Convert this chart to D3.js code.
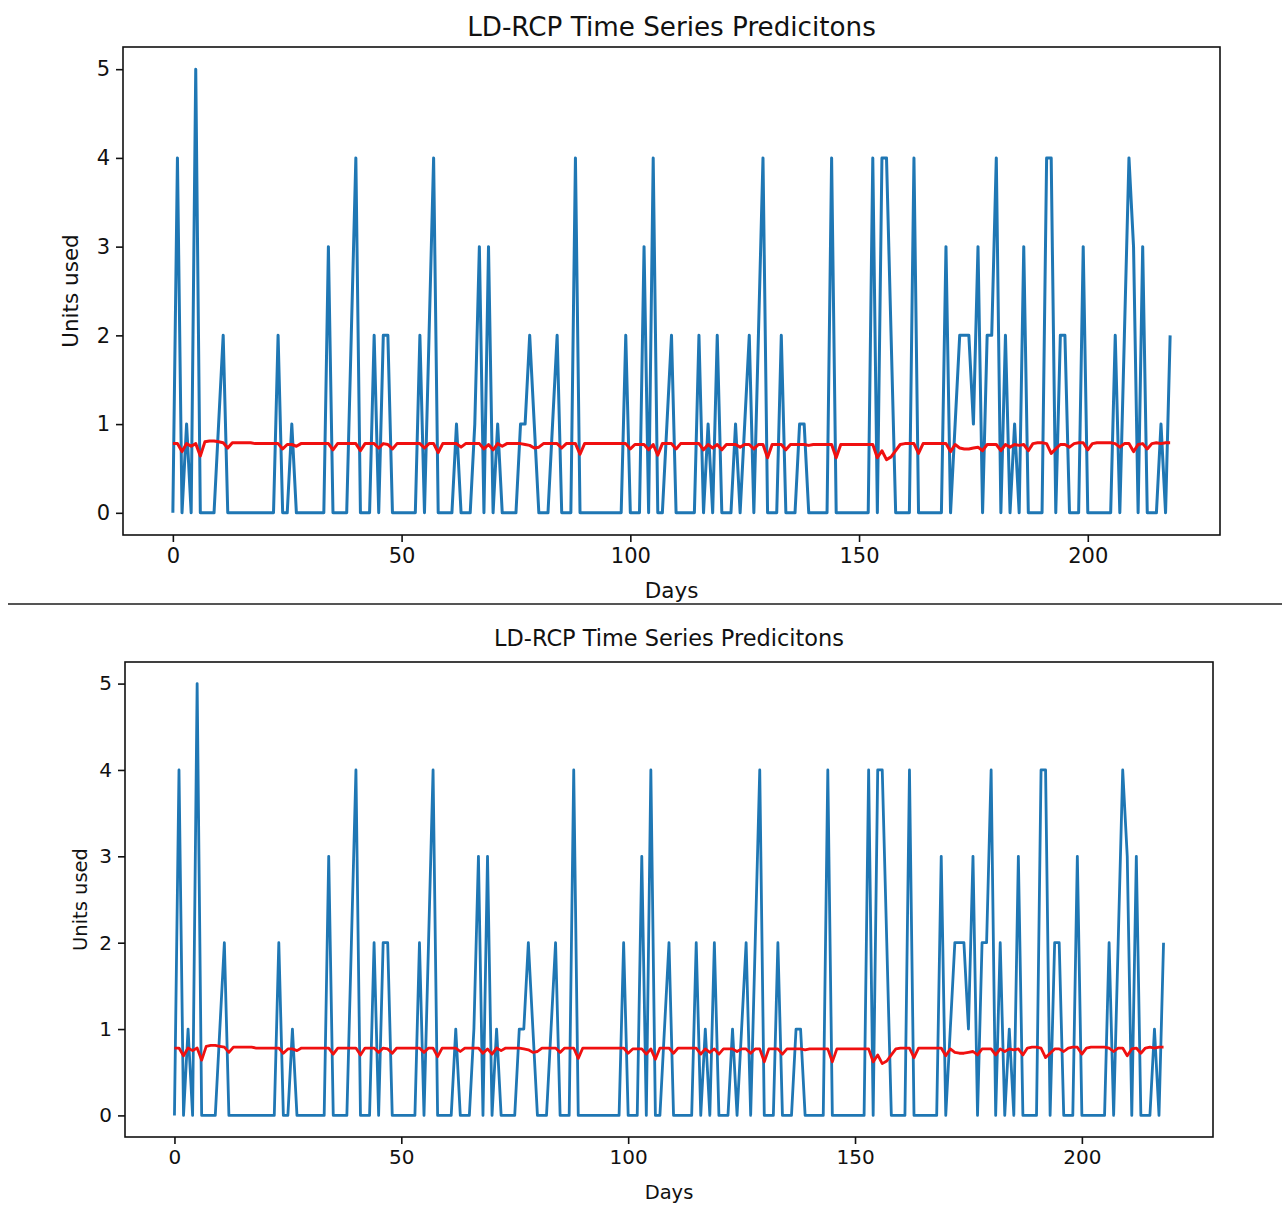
<!DOCTYPE html>
<html>
<head>
<meta charset="utf-8">
<script src="https://cdn.jsdelivr.net/npm/d3@7/dist/d3.min.js"></script>
<style>
    body { margin: 0; background: #fff; }
    svg { display: block; }
    text { font-family: "DejaVu Sans", sans-serif; fill: #111; }
</style>
</head>
<body>
<div id="chart"></div>
<script>
// Observed units used per day (day index = array position)
const unitsUsed = [
    0, 4, 0, 1, 0, 5, 0, 0, 0, 0, 1, 2, 0, 0, 0, 0, 0, 0, 0, 0,
    0, 0, 0, 2, 0, 0, 1, 0, 0, 0, 0, 0, 0, 0, 3, 0, 0, 0, 0, 2,
    4, 0, 0, 0, 2, 0, 2, 2, 0, 0, 0, 0, 0, 0, 2, 0, 2, 4, 0, 0,
    0, 0, 1, 0, 0, 0, 1, 3, 0, 3, 0, 1, 0, 0, 0, 0, 1, 1, 2, 1,
    0, 0, 0, 1, 2, 0, 0, 0, 4, 0, 0, 0, 0, 0, 0, 0, 0, 0, 0, 2,
    0, 0, 0, 3, 0, 4, 0, 0, 1, 2, 0, 0, 0, 0, 0, 2, 0, 1, 0, 2,
    0, 0, 0, 1, 0, 1, 2, 0, 2, 4, 0, 0, 0, 2, 0, 0, 0, 1, 1, 0,
    0, 0, 0, 0, 4, 0, 0, 0, 0, 0, 0, 0, 0, 4, 0, 4, 4, 2, 0, 0,
    0, 0, 4, 0, 0, 0, 0, 0, 0, 3, 0, 1, 2, 2, 2, 1, 3, 0, 2, 2,
    4, 0, 2, 0, 1, 0, 3, 0, 0, 0, 0, 4, 4, 0, 2, 2, 0, 0, 0, 3,
    0, 0, 0, 0, 0, 0, 2, 0, 2, 4, 3, 0, 3, 0, 0, 0, 1, 0, 2
];

// LD-RCP predicted units per day
const predicted = [
    0.78, 0.78, 0.69, 0.78, 0.75, 0.78, 0.64, 0.80, 0.81, 0.81, 0.80, 0.79, 0.73, 0.79, 0.79, 0.79, 0.79, 0.79, 0.78, 0.78,
    0.78, 0.78, 0.78, 0.78, 0.72, 0.77, 0.77, 0.75, 0.78, 0.78, 0.78, 0.78, 0.78, 0.78, 0.78, 0.71, 0.78, 0.78, 0.78, 0.78,
    0.78, 0.70, 0.78, 0.78, 0.78, 0.73, 0.78, 0.77, 0.72, 0.78, 0.78, 0.78, 0.78, 0.78, 0.78, 0.73, 0.78, 0.78, 0.68, 0.78,
    0.78, 0.78, 0.78, 0.74, 0.78, 0.78, 0.78, 0.78, 0.72, 0.77, 0.71, 0.78, 0.75, 0.78, 0.78, 0.78, 0.78, 0.77, 0.76, 0.73,
    0.74, 0.78, 0.78, 0.78, 0.78, 0.73, 0.78, 0.78, 0.78, 0.66, 0.78, 0.78, 0.78, 0.78, 0.78, 0.78, 0.78, 0.78, 0.78, 0.78,
    0.72, 0.77, 0.77, 0.77, 0.71, 0.77, 0.65, 0.78, 0.78, 0.78, 0.72, 0.78, 0.78, 0.78, 0.78, 0.78, 0.71, 0.77, 0.73, 0.77,
    0.71, 0.77, 0.77, 0.77, 0.74, 0.77, 0.77, 0.72, 0.77, 0.77, 0.62, 0.77, 0.77, 0.77, 0.71, 0.77, 0.77, 0.77, 0.77, 0.76,
    0.77, 0.77, 0.77, 0.77, 0.77, 0.62, 0.77, 0.77, 0.77, 0.77, 0.77, 0.77, 0.77, 0.77, 0.62, 0.70, 0.60, 0.63, 0.70, 0.77,
    0.78, 0.78, 0.78, 0.67, 0.78, 0.78, 0.78, 0.78, 0.78, 0.78, 0.69, 0.77, 0.73, 0.72, 0.72, 0.73, 0.74, 0.70, 0.77, 0.77,
    0.77, 0.70, 0.77, 0.74, 0.77, 0.76, 0.77, 0.70, 0.78, 0.79, 0.79, 0.78, 0.67, 0.72, 0.77, 0.77, 0.74, 0.78, 0.79, 0.79,
    0.71, 0.78, 0.79, 0.79, 0.79, 0.79, 0.78, 0.74, 0.78, 0.78, 0.69, 0.77, 0.78, 0.72, 0.78, 0.79, 0.78, 0.79, 0.79
];

const xTicks = [0, 50, 100, 150, 200];
const yTicks = [0, 1, 2, 3, 4, 5];
const chartTitle = 'LD-RCP Time Series Predicitons';
const xLabel = 'Days';
const yLabel = 'Units used';

const W = 1287, H = 1207;

const svg = d3.select('#chart')
    .append('svg')
    .attr('width', W)
    .attr('height', H);

// Two stacked copies of the same figure (as in the screenshot)
const panels = [
    { left: 123, right: 1220, top: 47, bottom: 535, titleY: 36, titleW: 409, xLabelY: 598, yLabelX: 70,
      tickFont: 21, labelFont: 21.5, lineW: 3 },
    { left: 125, right: 1213, top: 662, bottom: 1137, titleY: 646, titleW: 350, xLabelY: 1199, yLabelX: 80,
      tickFont: 20, labelFont: 19.5, lineW: 2.8 }
];

panels.forEach(p => drawPanel(p));

// Divider between the two screenshots
svg.append('line')
    .attr('x1', 8).attr('x2', 1282)
    .attr('y1', 604).attr('y2', 604)
    .attr('stroke', '#555')
    .attr('stroke-width', 2);

function drawPanel(p) {
    const n = unitsUsed.length - 1;
    const g = svg.append('g');

    // matplotlib-style 5% margins on both axes
    const xScale = d3.scaleLinear()
        .domain([-0.05 * n, 1.05 * n])
        .range([p.left, p.right]);

    const yScale = d3.scaleLinear()
        .domain([-0.25, 5.25])
        .range([p.bottom, p.top]);

    const line = d3.line()
        .x((d, i) => xScale(i))
        .y(d => yScale(d));

    // Actual series
    g.append('path')
        .datum(unitsUsed)
        .attr('d', line)
        .attr('fill', 'none')
        .attr('stroke', '#1f77b4')
        .attr('stroke-width', p.lineW)
        .attr('stroke-linejoin', 'round');

    // Predictions
    g.append('path')
        .datum(predicted)
        .attr('d', line)
        .attr('fill', 'none')
        .attr('stroke', '#f01010')
        .attr('stroke-width', p.lineW)
        .attr('stroke-linejoin', 'round');

    // X axis
    const xAxis = g.append('g')
        .attr('transform', `translate(0,${p.bottom})`)
        .call(d3.axisBottom(xScale).tickValues(xTicks).tickFormat(d3.format('d')).tickSize(7).tickPadding(6));
    xAxis.select('.domain').remove();

    // Y axis
    const yAxis = g.append('g')
        .attr('transform', `translate(${p.left},0)`)
        .call(d3.axisLeft(yScale).tickValues(yTicks).tickFormat(d3.format('d')).tickSize(7).tickPadding(6));
    yAxis.select('.domain').remove();

    [xAxis, yAxis].forEach(ax => {
        ax.selectAll('line').attr('stroke', '#111').attr('stroke-width', 1.6);
        ax.selectAll('text')
            .attr('font-size', p.tickFont + 'px')
            .attr('font-family', '"DejaVu Sans", sans-serif')
            .attr('fill', '#111');
    });

    // Frame
    g.append('rect')
        .attr('x', p.left)
        .attr('y', p.top)
        .attr('width', p.right - p.left)
        .attr('height', p.bottom - p.top)
        .attr('fill', 'none')
        .attr('stroke', '#111')
        .attr('stroke-width', 1.6);

    const cx = (xScale(0) + xScale(n)) / 2;

    // Title, fitted to the width seen in the reference
    const title = g.append('text')
        .attr('x', cx)
        .attr('y', p.titleY)
        .attr('text-anchor', 'middle')
        .attr('font-size', '24px')
        .text(chartTitle);
    const tw = title.node().getComputedTextLength();
    title.attr('font-size', (24 * p.titleW / tw) + 'px');

    g.append('text')
        .attr('x', cx)
        .attr('y', p.xLabelY)
        .attr('text-anchor', 'middle')
        .attr('font-size', p.labelFont + 'px')
        .text(xLabel);

    g.append('text')
        .attr('transform', `translate(${p.yLabelX},${(p.top + p.bottom) / 2}) rotate(-90)`)
        .attr('text-anchor', 'middle')
        .attr('dy', '0.35em')
        .attr('font-size', p.labelFont + 'px')
        .text(yLabel);
}
</script>
</body>
</html>
